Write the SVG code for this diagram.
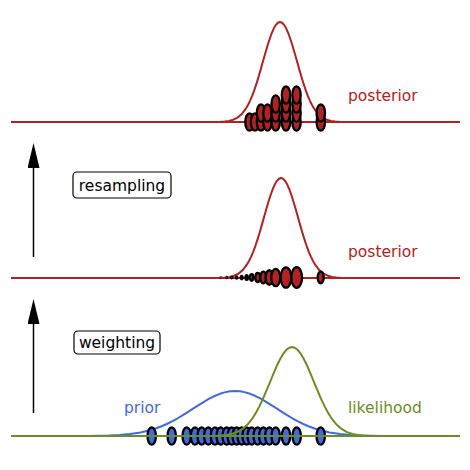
<svg xmlns="http://www.w3.org/2000/svg" xmlns:xlink="http://www.w3.org/1999/xlink" width="470" height="470" viewBox="0 0 470 470">
<style>
.lbl{font-family:"DejaVu Sans","Liberation Sans",sans-serif;font-size:15.5px}
.curve{fill:none;stroke-width:2;stroke-linejoin:round}
.red{stroke:#b22222}
.blue{stroke:#4169e1}
.green{stroke:#6b8e23}
.pr{fill:#b22222;stroke:#000;stroke-width:2.3}
.pb{fill:#4169e1;stroke:#000;stroke-width:2.3}
.box{fill:#fff;stroke:#000;stroke-width:1.2}
.arrow{stroke:#000;stroke-width:1.5;fill:none}
</style>
<defs>
<path id="gauss" vector-effect="non-scaling-stroke" d="M-4.5,0 L-4,-0.0003 -3.75,-0.0009 -3.5,-0.0022 -3.25,-0.0051 -3,-0.0111 -2.75,-0.0228 -2.5,-0.0439 -2.25,-0.0796 -2,-0.1353 -1.875,-0.1724 -1.75,-0.2163 -1.625,-0.2671 -1.5,-0.3247 -1.375,-0.3886 -1.25,-0.4578 -1.125,-0.5311 -1,-0.6065 -0.875,-0.6819 -0.75,-0.7548 -0.625,-0.8226 -0.5,-0.8825 -0.375,-0.9322 -0.25,-0.9692 -0.125,-0.9922 0,-1 0.125,-0.9922 0.25,-0.9692 0.375,-0.9322 0.5,-0.8825 0.625,-0.8226 0.75,-0.7548 0.875,-0.6819 1,-0.6065 1.125,-0.5311 1.25,-0.4578 1.375,-0.3886 1.5,-0.3247 1.625,-0.2671 1.75,-0.2163 1.875,-0.1724 2,-0.1353 2.25,-0.0796 2.5,-0.0439 2.75,-0.0228 3,-0.0111 3.25,-0.0051 3.5,-0.0022 3.75,-0.0009 4,-0.0003 4.5,0"/>
<marker id="ah" viewBox="0 0 25 12" refX="18" refY="6" markerWidth="25" markerHeight="12" markerUnits="userSpaceOnUse" orient="auto">
<path d="M0,0 L25,6 L0,12 z" fill="#000"/>
</marker>
</defs>

<g id="connectors">
<line class="arrow" x1="33.5" y1="257" x2="33.5" y2="150" marker-end="url(#ah)"/>
<line class="arrow" x1="33.5" y1="413" x2="33.5" y2="306" marker-end="url(#ah)"/>
</g>

<g id="resampling">
<rect class="box" x="73" y="172" width="98" height="26" rx="4"/>
<text class="lbl" x="122" y="190.5" text-anchor="middle" fill="#000">resampling</text>
</g>

<g id="weighting">
<rect class="box" x="74" y="331" width="86" height="23" rx="4"/>
<text class="lbl" x="117" y="347.5" text-anchor="middle" fill="#000">weighting</text>
</g>

<g id="top-panel">
<line class="curve red" x1="11" y1="122" x2="460" y2="122"/>
<use xlink:href="#gauss" class="curve red" transform="translate(280,122) scale(17,100)"/>
<g class="pr">
<ellipse cx="249.5" cy="122" rx="4.2" ry="8.7"/>
<ellipse cx="255" cy="122" rx="4.2" ry="8.7"/>
<ellipse cx="261" cy="122" rx="4.2" ry="8.7"/>
<ellipse cx="261" cy="113" rx="4.2" ry="8.7"/>
<ellipse cx="267.5" cy="122" rx="4.2" ry="8.7"/>
<ellipse cx="267.5" cy="113" rx="4.2" ry="8.7"/>
<ellipse cx="275.7" cy="122" rx="4.2" ry="8.7"/>
<ellipse cx="275.7" cy="113" rx="4.2" ry="8.7"/>
<ellipse cx="275.7" cy="104" rx="4.2" ry="8.7"/>
<ellipse cx="286" cy="122" rx="4.2" ry="8.7"/>
<ellipse cx="286" cy="113" rx="4.2" ry="8.7"/>
<ellipse cx="286" cy="104" rx="4.2" ry="8.7"/>
<ellipse cx="286" cy="95" rx="4.2" ry="8.7"/>
<ellipse cx="296.5" cy="122" rx="4.2" ry="8.7"/>
<ellipse cx="296.5" cy="113" rx="4.2" ry="8.7"/>
<ellipse cx="296.5" cy="104" rx="4.2" ry="8.7"/>
<ellipse cx="296.5" cy="95" rx="4.2" ry="8.7"/>
<ellipse cx="320.8" cy="122" rx="4.2" ry="8.7"/>
<ellipse cx="320.8" cy="113" rx="4.2" ry="8.7"/>
</g>
<text class="lbl" x="348" y="101" fill="#b22222">posterior</text>
</g>

<g id="middle-panel">
<line class="curve red" x1="11" y1="278" x2="460" y2="278"/>
<use xlink:href="#gauss" class="curve red" transform="translate(281,278) scale(17,100)"/>
<g class="pr">
<ellipse cx="220.7" cy="277.5" rx="0.14" ry="0.26"/>
<ellipse cx="226.7" cy="277.5" rx="0.25" ry="0.48"/>
<ellipse cx="231.7" cy="277.5" rx="0.4" ry="0.76"/>
<ellipse cx="236.7" cy="277.5" rx="0.6" ry="1.16"/>
<ellipse cx="241.7" cy="277.5" rx="0.87" ry="1.68"/>
<ellipse cx="246.7" cy="277.5" rx="1.24" ry="2.38"/>
<ellipse cx="251.7" cy="277.5" rx="1.69" ry="3.25"/>
<ellipse cx="257.7" cy="277.5" rx="2.33" ry="4.48"/>
<ellipse cx="263.3" cy="277.5" rx="3.02" ry="5.8"/>
<ellipse cx="269.3" cy="277.5" rx="3.76" ry="7.24"/>
<ellipse cx="275.7" cy="277.5" rx="4.5" ry="8.67"/>
<ellipse cx="286" cy="277.5" rx="5.3" ry="10.2"/>
<ellipse cx="296.7" cy="277.5" rx="5.36" ry="10.3"/>
<ellipse cx="320.7" cy="277.5" rx="3.02" ry="5.8"/>
</g>
<text class="lbl" x="348" y="257" fill="#b22222">posterior</text>
</g>

<g id="bottom-panel">
<line class="curve blue" x1="11" y1="436" x2="460" y2="436"/>
<use xlink:href="#gauss" class="curve blue" transform="translate(235,436) scale(42,45)"/>
<g class="pb">
<ellipse cx="151.7" cy="436" rx="4.2" ry="8.7"/>
<ellipse cx="171.7" cy="436" rx="4.2" ry="8.7"/>
<ellipse cx="186.7" cy="436" rx="4.2" ry="8.7"/>
<ellipse cx="195" cy="436" rx="4.2" ry="8.7"/>
<ellipse cx="201.7" cy="436" rx="4.2" ry="8.7"/>
<ellipse cx="208.3" cy="436" rx="4.2" ry="8.7"/>
<ellipse cx="215" cy="436" rx="4.2" ry="8.7"/>
<ellipse cx="220.7" cy="436" rx="4.2" ry="8.7"/>
<ellipse cx="226.7" cy="436" rx="4.2" ry="8.7"/>
<ellipse cx="231.7" cy="436" rx="4.2" ry="8.7"/>
<ellipse cx="236.7" cy="436" rx="4.2" ry="8.7"/>
<ellipse cx="241.7" cy="436" rx="4.2" ry="8.7"/>
<ellipse cx="246.7" cy="436" rx="4.2" ry="8.7"/>
<ellipse cx="251.7" cy="436" rx="4.2" ry="8.7"/>
<ellipse cx="257.7" cy="436" rx="4.2" ry="8.7"/>
<ellipse cx="263.3" cy="436" rx="4.2" ry="8.7"/>
<ellipse cx="269.3" cy="436" rx="4.2" ry="8.7"/>
<ellipse cx="275.7" cy="436" rx="4.2" ry="8.7"/>
<ellipse cx="286" cy="436" rx="4.2" ry="8.7"/>
<ellipse cx="296.7" cy="436" rx="4.2" ry="8.7"/>
<ellipse cx="320.7" cy="436" rx="4.2" ry="8.7"/>
</g>
<line class="curve green" x1="11" y1="436" x2="460" y2="436"/>
<use xlink:href="#gauss" class="curve green" transform="translate(292,436) scale(22,89)"/>
<text class="lbl" x="124" y="413" fill="#4169e1">prior</text>
<text class="lbl" x="348" y="413" fill="#6b8e23">likelihood</text>
</g>
</svg>
